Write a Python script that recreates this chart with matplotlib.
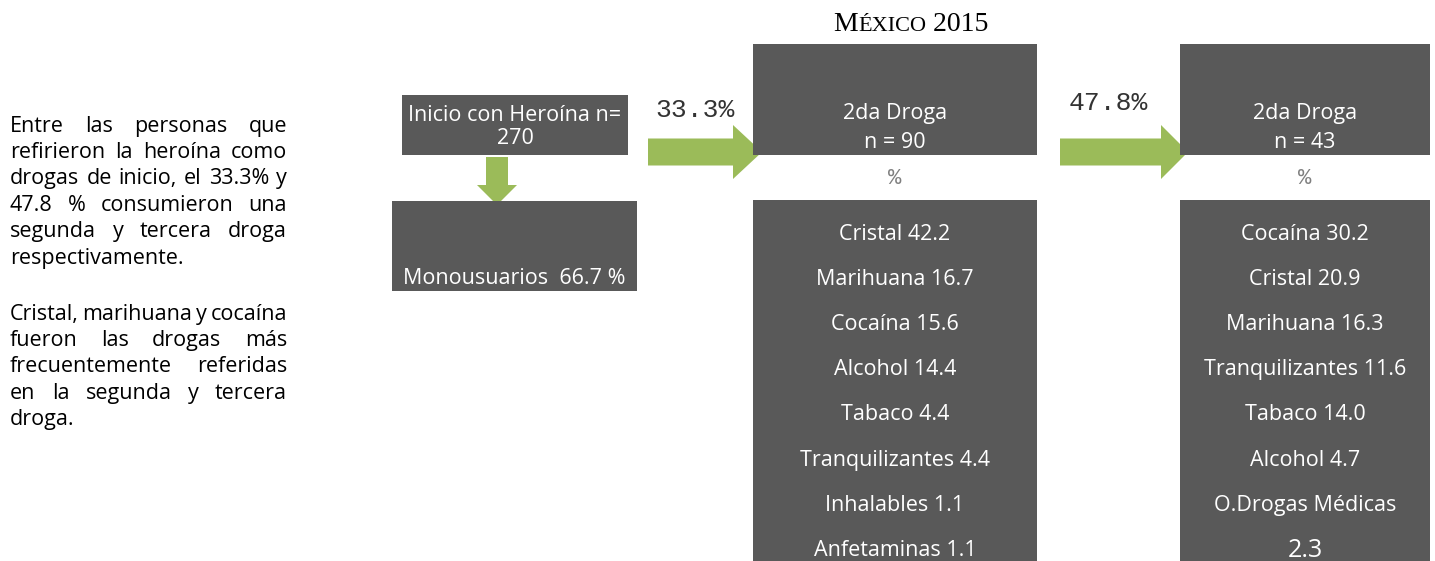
import matplotlib
matplotlib.use("Agg")
import matplotlib.pyplot as plt
from matplotlib.patches import Rectangle, Polygon

# ---- data ----
title_parts = ["M", "ÉXICO", " 2015"]
start_label = "Inicio con Heroína n=\n270"
mono_label = "Monousuarios  66.7 %"
pct_second = "33.3%"
pct_third = "47.8%"
n_second = 90
n_third = 43
second_drugs = ["Cristal 42.2", "Marihuana 16.7", "Cocaína 15.6", "Alcohol 14.4",
                "Tabaco 4.4", "Tranquilizantes 4.4", "Inhalables 1.1", "Anfetaminas 1.1"]
third_drugs = ["Cocaína 30.2", "Cristal 20.9", "Marihuana 16.3", "Tranquilizantes 11.6",
               "Tabaco 14.0", "Alcohol 4.7", "O.Drogas Médicas", "2.3"]
para1 = ["Entre las personas que",
         "refirieron la heroína como",
         "drogas de inicio, el 33.3% y",
         "47.8 % consumieron una",
         "segunda y tercera droga",
         "respectivamente."]
para2 = ["Cristal, marihuana y cocaína",
         "fueron las drogas más",
         "frecuentemente referidas",
         "en la segunda y tercera",
         "droga."]

GRAY = "#595959"
GREEN = "#9bbb59"
SANS = "Open Sans"
MONO = "Liberation Mono"

W, H = 1435, 561
fig = plt.figure(figsize=(W / 100, H / 100), dpi=100)
ax = fig.add_axes([0, 0, 1, 1])
ax.set_xlim(0, W)
ax.set_ylim(H, 0)
ax.axis("off")
renderer = fig.canvas.get_renderer()


def box(x0, y0, x1, y1):
    ax.add_patch(Rectangle((x0, y0), x1 - x0, y1 - y0, color=GRAY, lw=0))


def right_arrow(x0, x1, xh, y, shaft=27, head=54):
    pts = [(x0, y - shaft / 2), (xh, y - shaft / 2), (xh, y - head / 2), (x1, y),
           (xh, y + head / 2), (xh, y + shaft / 2), (x0, y + shaft / 2)]
    ax.add_patch(Polygon(pts, closed=True, color=GREEN, lw=0))


def down_arrow(x, y0, y1, yh, shaft=22, head=40):
    pts = [(x - shaft / 2, y0), (x + shaft / 2, y0), (x + shaft / 2, yh), (x + head / 2, yh),
           (x, y1), (x - head / 2, yh), (x - shaft / 2, yh)]
    ax.add_patch(Polygon(pts, closed=True, color=GREEN, lw=0))


def width_of(t):
    return t.get_window_extent(renderer).width


def justify(lines, x0, x1, y, step, size):
    for i, line in enumerate(lines):
        yy = y + i * step
        words = line.split()
        if i == len(lines) - 1 or len(words) == 1:
            ax.text(x0, yy, line, fontsize=size, family=SANS, color="black",
                    va="center", ha="left")
            continue
        texts = [ax.text(0, yy, w, fontsize=size, family=SANS, color="black",
                         va="center", ha="left") for w in words]
        widths = [width_of(t) for t in texts]
        gap = (x1 - x0 - sum(widths)) / (len(words) - 1)
        xx = x0
        for t, wd in zip(texts, widths):
            t.set_x(xx)
            xx += wd + gap


# left paragraphs
justify(para1, 10, 287, 126, 26.4, 15.5)
justify(para2, 10, 287, 314, 26.4, 15.5)

# title in small caps
sizes = [20, 16, 20]
tparts = [ax.text(0, 31, s, fontsize=sz, family="Liberation Serif", va="baseline", ha="left")
          for s, sz in zip(title_parts, sizes)]
tw = [width_of(t) for t in tparts]
xx = 911 - sum(tw) / 2
for t, wd in zip(tparts, tw):
    t.set_x(xx)
    xx += wd

# first column
box(402, 95, 628, 155)
ax.text(515, 127, start_label, fontsize=15.5, family=SANS, color="white",
        ha="center", va="center", linespacing=1.1)
down_arrow(497, 157, 205, 185)
box(392, 201, 637, 291)
ax.text(514, 278, mono_label, fontsize=15.5, family=SANS, color="white",
        ha="center", va="center")

# arrows and percentages
right_arrow(648, 762, 733, 152)
ax.text(695, 110, pct_second, fontsize=19, family=MONO, color="#333333",
        ha="center", va="center")
right_arrow(1060, 1188, 1161, 152)
ax.text(1108, 103, pct_third, fontsize=19, family=MONO, color="#333333",
        ha="center", va="center")

# drug columns
for (x0, x1, n, items) in [(753, 1037, n_second, second_drugs),
                           (1180, 1430, n_third, third_drugs)]:
    cx = (x0 + x1) / 2
    box(x0, 44, x1, 155)
    ax.text(cx, 113, "2da Droga", fontsize=15.5, family=SANS, color="white",
            ha="center", va="center")
    ax.text(cx, 142, f"n = {n}", fontsize=15.5, family=SANS, color="white",
            ha="center", va="center")
    ax.text(cx, 178, "%", fontsize=16, family=MONO, color="#7f7f7f",
            ha="center", va="center")
    box(x0, 200, x1, H + 5)
    for i, it in enumerate(items):
        big = it == "2.3"
        ax.text(cx, 234 + i * 45.2, it, fontsize=18 if big else 15.5, family=SANS,
                color="white", ha="center", va="center")

fig.savefig("out.png", dpi=100)
